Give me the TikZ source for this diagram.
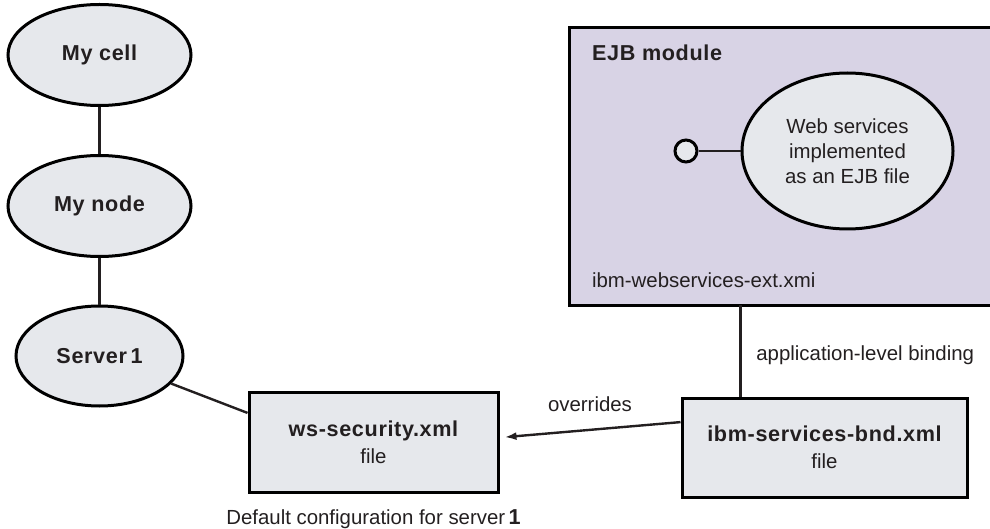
\documentclass[tikz,border=0pt]{standalone}
\usepackage{fontspec}
\setmainfont{Liberation Sans}[BoldFeatures={LetterSpace=3}]
\usetikzlibrary{positioning,shapes.geometric,arrows.meta}
\definecolor{nodegray}{HTML}{E6E8EC}
\definecolor{modlilac}{HTML}{D8D3E5}
\definecolor{inkgray}{HTML}{231F20}
\newcommand{\hd}[1]{{\fontsize{10.8}{13}\selectfont\bfseries #1}}
\begin{document}
\begin{tikzpicture}[x=0.5pt,y=-0.5pt,
    every node/.style={text=inkgray,font=\fontsize{10.2}{12.5}\selectfont},
    oval/.style={ellipse,draw=black,line width=1.5pt,fill=nodegray,inner sep=0pt},
    filebox/.style={rectangle,draw=black,line width=1.5pt,fill=nodegray,align=center,inner sep=0pt},
    link/.style={draw=inkgray,line width=1.2pt}]
	    \tikzset{>={Latex[length=6pt,width=4pt]}}
	    \useasboundingbox (0,0) rectangle (990,529);
	    \node[fill=modlilac,minimum width=210pt,minimum height=138.5pt,inner sep=0pt] (ejb) at (780,166.5) {};
	    \draw[line width=1.5pt] (ejb.north east) -- (ejb.north west) -- (ejb.south west) -- (ejb.south east);
	    \node[anchor=west] (ejbtitle) at (585,53) {\hd{EJB module}};
	    \node[anchor=west] (xmi) at (585,280) {ibm-webservices-ext.xmi};
	    \node[oval,minimum width=105.5pt,minimum height=78pt,align=center,font=\fontsize{10.2}{12.6}\selectfont] (wsi) at (847.5,151) {Web services\\implemented\\as an EJB file};
	    \node[circle,draw=black,line width=1.5pt,fill=nodegray,minimum size=11pt,inner sep=0pt] (port) at (686,151) {};
	    \draw[link] (port) -- (wsi);
	    \node[oval,minimum width=91.5pt,minimum height=50.5pt] (cell) at (99.5,55) {\hd{My cell}};
	    \node[oval,minimum width=91.5pt,minimum height=50.5pt] (nd) at (99.5,206) {\hd{My node}};
	    \node[oval,minimum width=83.5pt,minimum height=50pt] (srv) at (99.5,356) {\hd{Server\,1}};
	    \draw[link] (cell) -- (nd);
	    \draw[link] (nd) -- (srv);
	    \node[filebox,minimum width=124.5pt,minimum height=50pt] (ws) at (373.5,442) {\hd{ws-security.xml}\\[1pt]file};
	    \node[filebox,minimum width=142.5pt,minimum height=49.5pt] (bnd) at (824.5,447.5) {\hd{ibm-services-bnd.xml}\\[1pt]file};
	    \node[below=4.5pt of ws] (dflt) {Default configuration for server\,\hd{1}};
	    \draw[link] (srv) -- (ws.167);
	    \draw[link,->,shorten >=2.5pt] (bnd.170) -- node[above=5pt] (ovr) {overrides} (ws.2);
	    \draw[link] (wsi.west |- ejb.south) -- node[pos=0.55,right=4pt] (alb) {application-level binding} (wsi.west |- bnd.north);
	    \end{tikzpicture}
\end{document}
